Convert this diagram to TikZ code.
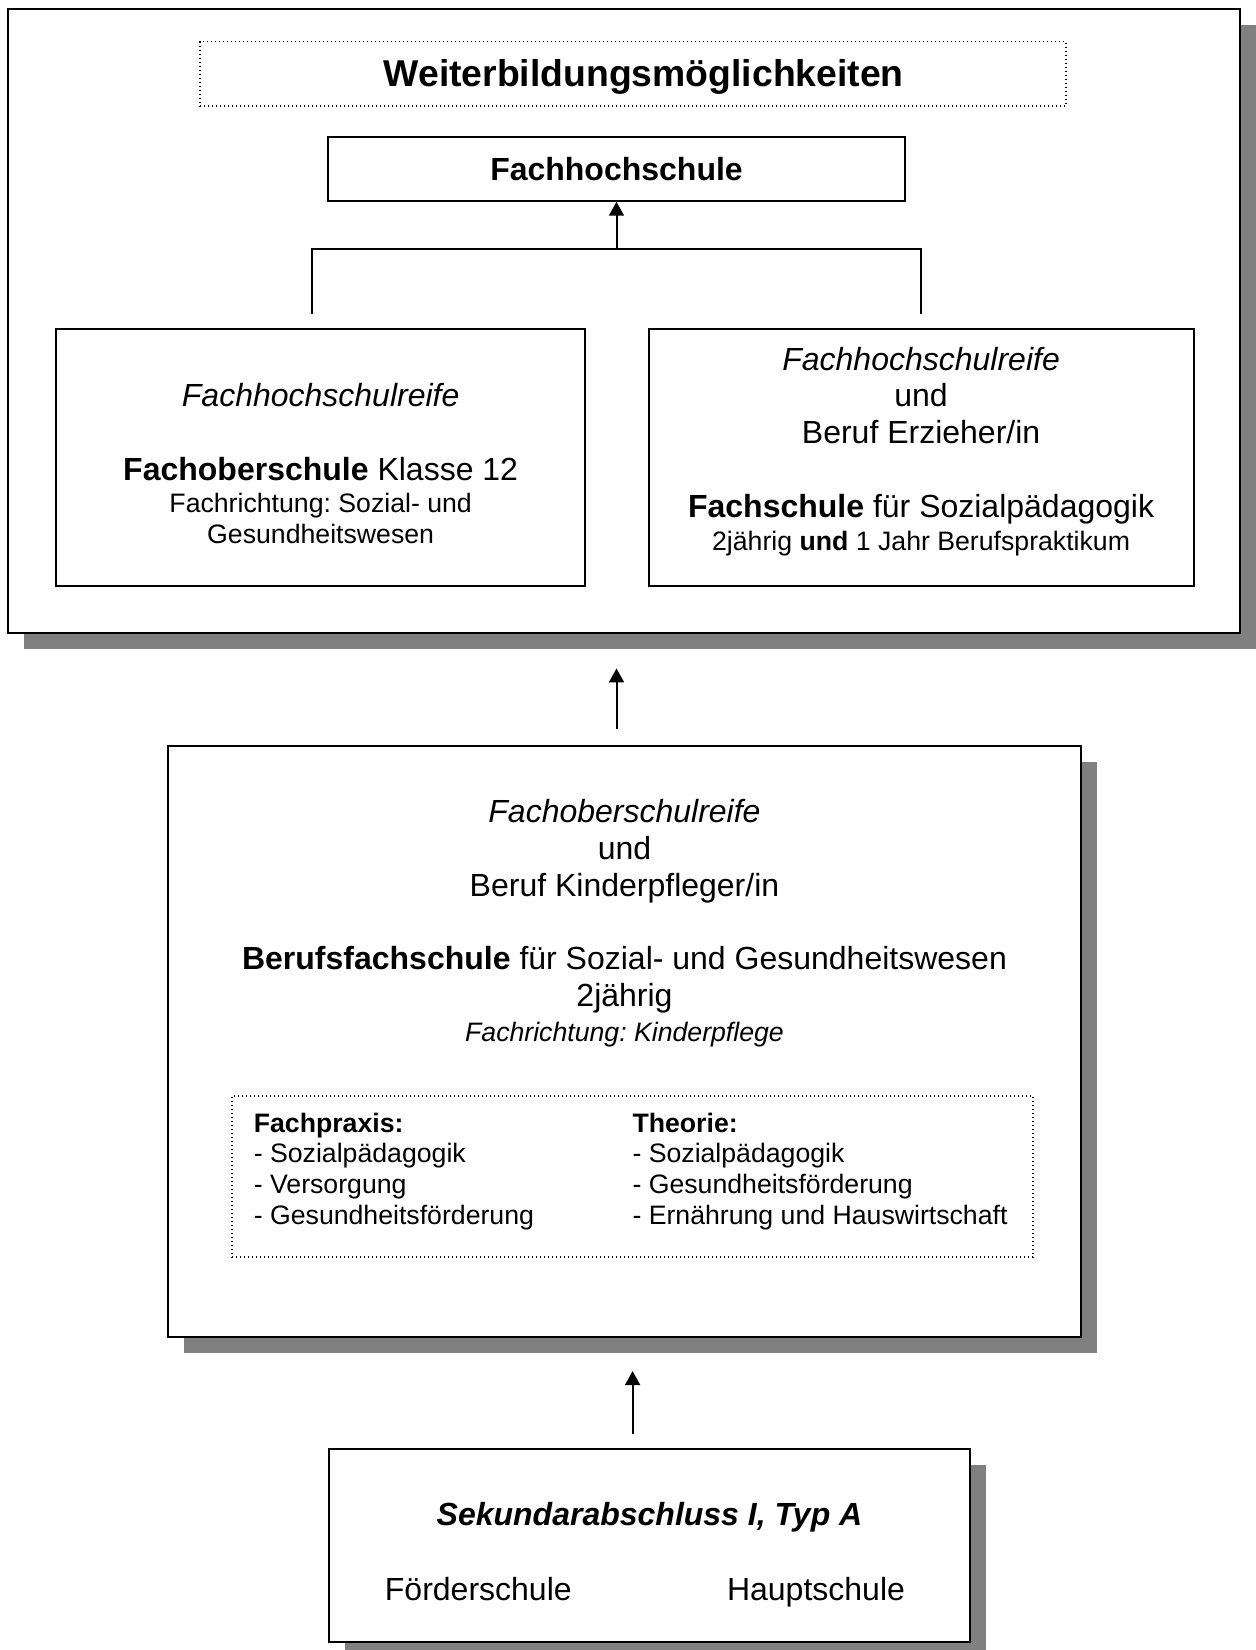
\documentclass[tikz,border=0pt]{standalone}
\usepackage{fontspec}
\setmainfont{Liberation Sans}
\usetikzlibrary{arrows.meta}
\usetikzlibrary{shadows}
\setlength{\parindent}{0pt}
\setlength{\parskip}{0pt}
\frenchspacing
\newcommand{\bigtxt}{\fontsize{14}{16.1}\selectfont}
\newcommand{\midtxt}{\fontsize{12}{13.8}\selectfont}
\newcommand{\smalltxt}{\fontsize{10}{11.5}\selectfont}

\begin{document}
\begin{tikzpicture}[x=0.375pt, y=-0.375pt,
	box/.style={draw, line width=0.75pt, fill=white, inner sep=0pt},
	shadowbox/.style={box, drop shadow={shadow xshift=6pt, shadow yshift=-6pt, fill=black!50, opacity=1}},
	dotbox/.style={draw, densely dotted, line width=0.5pt, inner sep=0pt},
	txt/.style={inner sep=0pt, anchor=base, align=flush center, font=\midtxt},
	arr/.style={line width=0.75pt, -{Triangle[length=5.25pt, width=5.6pt]}}]
	\useasboundingbox (0,0) rectangle (1255,1650);
	\node[shadowbox, minimum width=462pt, minimum height=234pt] (weiter) at (624,321) {};
	\node[dotbox, minimum width=324.75pt, minimum height=24.1pt] (titel) at (633,73.9) {};
	\node[txt, font=\bigtxt\bfseries] (titeltxt) at (643.7,86.7) {Weiterbildungsmöglichkeiten};
	\node[box, minimum width=216.4pt, minimum height=23.8pt, font=\midtxt\bfseries] (fhs) at (616.5,169) {Fachhochschule};
	\node[box, minimum width=198.5pt, minimum height=96.25pt] (fos) at (320.65,457.65) {};
	\node[box, minimum width=204.45pt, minimum height=96.25pt] (fsp) at (921.1,457.65) {};
	\node[txt, text width=190pt] (fostxt) at (320.65,406.7) {{\itshape Fachhochschulreife\par}\vspace{13.8pt}\textbf{Fachoberschule} Klasse 12\par{\smalltxt\vspace{0.6pt}Fachrichtung: Sozial- und\par Gesundheitswesen\par}};
	\node[txt, text width=200pt] (fsptxt) at (921.1,370) {{\itshape Fachhochschulreife\par}und\par Beruf Erzieher/in\par\vspace{13.8pt}\textbf{Fachschule} für Sozialpädagogik\par{\smalltxt\vspace{1pt}2jährig \textbf{und} 1 Jahr Berufspraktikum\par}};

	\coordinate (gabel) at (616.5,249.3);
	\coordinate (gabell) at (312,314);
	\coordinate (gabelr) at (921,314);
	\draw[line width=0.75pt] (gabell) |- (gabel) -| (gabelr);
	\draw[arr] (gabel) -- (fhs.south);

	\node[shadowbox, minimum width=342.4pt, minimum height=221.8pt] (kinderpfl) at (624.5,1041.25) {};
	\node[txt, text width=335pt] (kinderpfltxt) at (624.5,822.7) {{\itshape Fachoberschulreife\par}und\par Beruf Kinderpfleger/in\par\vspace{13.8pt}\textbf{Berufsfachschule} für Sozial- und Gesundheitswesen\par 2jährig\par{\smalltxt\itshape\vspace{1.6pt}Fachrichtung: Kinderpflege\par}};
	\node[dotbox, minimum width=300.4pt, minimum height=60.4pt] (faecher) at (632.6,1176.5) {};
	\node[txt, align=flush left, text width=130pt, anchor=base west, font=\smalltxt] (praxis) at (253.3,1132) {\textbf{Fachpraxis:}\par - Sozialpädagogik\par - Versorgung\par - Gesundheitsförderung\par};
	\node[txt, align=flush left, text width=150pt, anchor=base west, font=\smalltxt] (theorie) at (632,1132) {\textbf{Theorie:}\par - Sozialpädagogik\par - Gesundheitsförderung\par - Ernährung und Hauswirtschaft\par};

	\node[shadowbox, minimum width=240.2pt, minimum height=72.4pt] (sek) at (649.3,1545.5) {};
	\node[txt, font=\midtxt\bfseries\itshape] (sektxt) at (649.5,1525.7) {Sekundarabschluss I, Typ A};
	\node[txt] (foerder) at (478.3,1600) {Förderschule};
	\node[txt] (haupt) at (816,1600) {Hauptschule};

	\draw[arr, shorten <=5.8pt, shorten >=12.9pt] (kinderpfl.north -| fhs.south) -- (weiter.south -| fhs.south);
	\draw[arr, shorten <=5.25pt, shorten >=12.4pt] (sek.north -| faecher.center) -- (kinderpfl.south -| faecher.center);
\end{tikzpicture}
\end{document}
